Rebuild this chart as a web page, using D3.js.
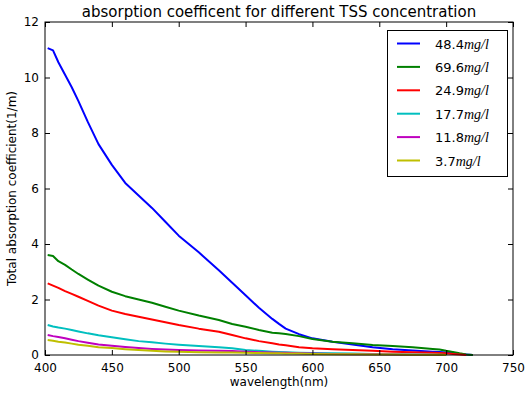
<!DOCTYPE html>
<html>
<head>
<meta charset="utf-8">
<script src="https://cdn.jsdelivr.net/npm/d3@7"></script>
<style>
body{margin:0;background:#fff;}
text{font-family:"DejaVu Sans",sans-serif;fill:#000;}
</style>
</head>
<body>
<svg id="chart" width="525" height="394"></svg>
<script>
const wavelengths = [402,406,410,415,420,425,432,440,450,460,470,480,490,500,515,530,540,550,560,570,575,580,590,600,615,630,645,660,675,690,695,700,705,710,715,720];
const s484 = [11.06,10.98,10.55,10.1,9.65,9.15,8.4,7.6,6.85,6.2,5.75,5.3,4.8,4.3,3.7,3.05,2.6,2.15,1.7,1.3,1.12,0.95,0.75,0.6,0.48,0.38,0.28,0.21,0.16,0.12,0.11,0.09,0.07,0.04,0.02,0.0];
const s696 = [3.6,3.57,3.38,3.25,3.08,2.92,2.72,2.5,2.28,2.12,2.0,1.88,1.74,1.6,1.42,1.26,1.12,1.02,0.9,0.8,0.78,0.76,0.68,0.58,0.48,0.42,0.36,0.32,0.28,0.22,0.2,0.15,0.11,0.06,0.02,0.0];
const s249 = [2.58,2.5,2.42,2.3,2.2,2.1,1.95,1.78,1.6,1.48,1.38,1.28,1.18,1.08,0.95,0.84,0.72,0.6,0.5,0.42,0.38,0.35,0.28,0.24,0.21,0.18,0.15,0.12,0.1,0.08,0.07,0.06,0.04,0.02,0.0,null];
const s177 = [1.08,1.03,0.99,0.95,0.9,0.85,0.78,0.71,0.64,0.57,0.5,0.46,0.41,0.37,0.32,0.28,0.24,0.18,0.15,0.12,0.11,0.1,0.08,0.07,0.06,0.05,0.04,0.03,0.02,0.01,0.01,0.0,null,null,null,null];
const s118 = [0.72,0.68,0.65,0.6,0.55,0.5,0.44,0.38,0.33,0.29,0.25,0.22,0.2,0.18,0.16,0.15,0.14,0.12,0.1,0.09,0.08,0.08,0.06,0.05,0.04,0.03,0.03,0.02,0.01,0.01,0.0,0.0,null,null,null,null];
const s37 = [0.54,0.51,0.48,0.45,0.41,0.37,0.33,0.28,0.25,0.21,0.18,0.15,0.13,0.12,0.1,0.09,0.09,0.08,0.07,0.06,0.06,0.05,0.05,0.04,0.03,0.03,0.02,0.02,0.01,0.01,0.01,0.0,null,null,null,null];
const seriesNames = ["48.4","69.6","24.9","17.7","11.8","3.7"];
const seriesColors = ["#0000ff","#008000","#ff0000","#00bfbf","#bf00bf","#bfbf00"];
const seriesValues = [s484,s696,s249,s177,s118,s37];
const xTicks = [400,450,500,550,600,650,700,750];
const yTicks = [0,2,4,6,8,10,12];

const svg = d3.select("#chart");
const m = {left:45, right:12, top:22, bottom:39};
const W = 525, H = 394;
const x = d3.scaleLinear().domain([400,750]).range([m.left, W-m.right]);
const y = d3.scaleLinear().domain([0,12]).range([H-m.bottom, m.top]);

const g = svg.append("g");
const line = d3.line().defined(d=>d[1]!==null).x(d=>x(d[0])).y(d=>y(d[1]));
seriesValues.forEach((vals,i)=>{
  const pts = wavelengths.map((w,j)=>[w, vals[j]]);
  g.append("path").attr("d", line(pts)).attr("fill","none")
   .attr("stroke", seriesColors[i]).attr("stroke-width",2).attr("stroke-linejoin","round");
});

const tl = 5;
const ax = d3.axisBottom(x).tickValues(xTicks).tickSizeInner(-tl).tickSizeOuter(0).tickPadding(8);
const axT = d3.axisTop(x).tickValues(xTicks).tickSizeInner(-tl).tickSizeOuter(0).tickFormat("");
const ay = d3.axisLeft(y).tickValues(yTicks).tickSizeInner(-tl).tickSizeOuter(0).tickPadding(6);
const ayR = d3.axisRight(y).tickValues(yTicks).tickSizeInner(-tl).tickSizeOuter(0).tickFormat("");
function style(sel){
  sel.select(".domain").remove();
  sel.selectAll("line").attr("stroke","#000");
  sel.selectAll("text").attr("font-size","12px").attr("font-family","DejaVu Sans").attr("fill","#000");
}
svg.append("g").attr("transform",`translate(0,${H-m.bottom})`).call(ax).call(style);
svg.append("g").attr("transform",`translate(0,${m.top})`).call(axT).call(style);
svg.append("g").attr("transform",`translate(${m.left},0)`).call(ay).call(style);
svg.append("g").attr("transform",`translate(${W-m.right},0)`).call(ayR).call(style);

svg.append("rect").attr("x",m.left).attr("y",m.top).attr("width",W-m.left-m.right).attr("height",H-m.top-m.bottom)
  .attr("fill","none").attr("stroke","#000").attr("stroke-width",1);

svg.append("text").attr("x",(m.left+W-m.right)/2).attr("y",17).attr("text-anchor","middle")
  .attr("font-size","15px").text("absorption coefficent for different TSS concentration");
svg.append("text").attr("x",(m.left+W-m.right)/2).attr("y",386).attr("text-anchor","middle")
  .attr("font-size","12px").text("wavelength(nm)");
svg.append("text").attr("transform",`translate(16,${(m.top+H-m.bottom)/2}) rotate(-90)`).attr("text-anchor","middle")
  .attr("font-size","12px").text("Total absorption coefficient(1/m)");

const lg = svg.append("g");
lg.append("rect").attr("x",387.5).attr("y",30.5).attr("width",120).attr("height",146)
  .attr("fill","#fff").attr("stroke","#000").attr("stroke-width",1);
seriesNames.forEach((n,i)=>{
  const yy = 43.5 + i*23.4;
  lg.append("line").attr("x1",397).attr("x2",420).attr("y1",yy).attr("y2",yy)
    .attr("stroke",seriesColors[i]).attr("stroke-width",2);
  const t = lg.append("text").attr("x",435).attr("y",yy+5).attr("font-size","13px");
  t.append("tspan").text(n);
  t.append("tspan").attr("font-family","Liberation Serif").attr("font-style","italic").attr("font-size","14px").text("mg/l");
});
</script>
</body>
</html>
